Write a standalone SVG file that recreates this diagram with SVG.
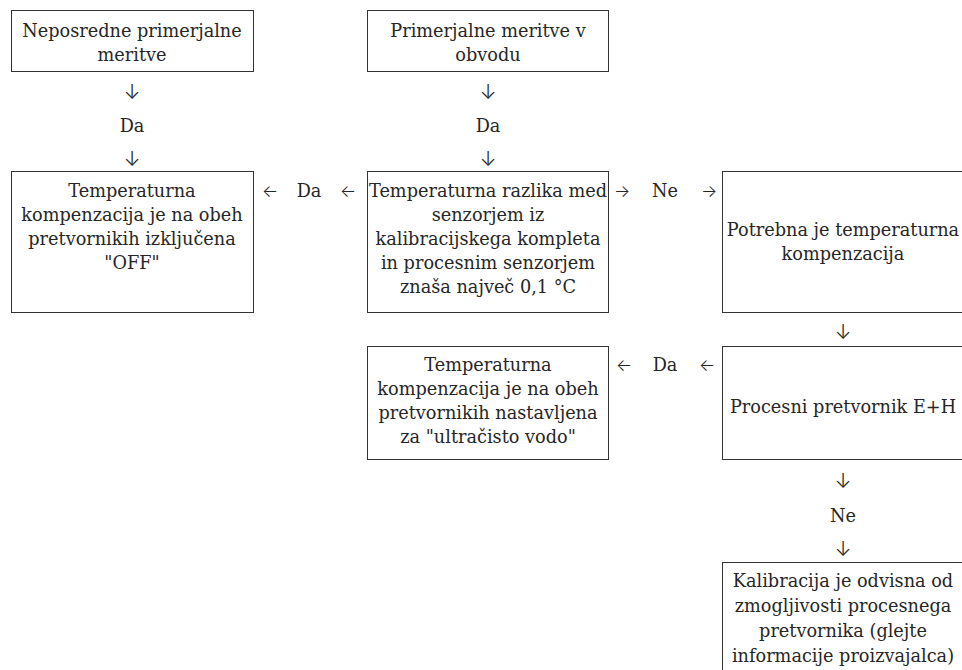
<svg xmlns="http://www.w3.org/2000/svg" width="962" height="670" viewBox="0 0 962 670">
<style>
.box{fill:#fff;stroke:#333;stroke-width:1}
text{font-family:"DejaVu Serif","Liberation Serif",serif;font-size:17.7px;fill:#262626;text-anchor:middle}
.v{font-family:Inter,"DejaVu Sans",sans-serif;font-size:20px;font-weight:300}
.h{font-family:Inter,"DejaVu Sans",sans-serif;font-size:17px;font-weight:300}
</style>
<rect width="962" height="670" fill="#fff"/>
<g id="n1">
<rect class="box" x="11.5" y="10.5" width="242" height="61"/>
<text x="132" y="37">Neposredne primerjalne</text>
<text x="132" y="61">meritve</text>
</g>
<g id="n2">
<rect class="box" x="367.5" y="10.5" width="241" height="61"/>
<text x="488" y="37">Primerjalne meritve v</text>
<text x="488" y="61">obvodu</text>
</g>
<g id="n3">
<rect class="box" x="11.5" y="171.5" width="242" height="141"/>
<text x="132" y="197">Temperaturna</text>
<text x="132" y="221">kompenzacija je na obeh</text>
<text x="132" y="245">pretvornikih izključena</text>
<text x="132" y="269">"OFF"</text>
</g>
<g id="n4">
<rect class="box" x="367.5" y="171.5" width="241" height="141"/>
<text x="488" y="197">Temperaturna razlika med</text>
<text x="488" y="221">senzorjem iz</text>
<text x="488" y="245">kalibracijskega kompleta</text>
<text x="488" y="269">in procesnim senzorjem</text>
<text x="488" y="293">znaša največ 0,1 °C</text>
</g>
<g id="n5">
<rect class="box" x="722.5" y="171.5" width="242" height="141"/>
<text x="843" y="236">Potrebna je temperaturna</text>
<text x="843" y="260">kompenzacija</text>
</g>
<g id="n6">
<rect class="box" x="367.5" y="346.5" width="241" height="113"/>
<text x="488" y="371">Temperaturna</text>
<text x="488" y="395">kompenzacija je na obeh</text>
<text x="488" y="419">pretvornikih nastavljena</text>
<text x="488" y="443">za "ultračisto vodo"</text>
</g>
<g id="n7">
<rect class="box" x="722.5" y="346.5" width="242" height="113"/>
<text x="843" y="413">Procesni pretvornik E+H</text>
</g>
<g id="n8">
<rect class="box" x="722.5" y="562.5" width="242" height="130"/>
<text x="843" y="587">Kalibracija je odvisna od</text>
<text x="843" y="612">zmogljivosti procesnega</text>
<text x="843" y="637">pretvornika (glejte</text>
<text x="843" y="662">informacije proizvajalca)</text>
</g>
<g id="connectors">
<text class="v" x="132" y="99">↓</text>
<text x="132" y="132">Da</text>
<text class="v" x="132" y="166">↓</text>
<text class="v" x="488" y="99">↓</text>
<text x="488" y="132">Da</text>
<text class="v" x="488" y="166">↓</text>
<text class="h" x="270" y="197">←</text>
<text x="309" y="197">Da</text>
<text class="h" x="348" y="197">←</text>
<text class="h" x="622" y="197">→</text>
<text x="665" y="197">Ne</text>
<text class="h" x="709" y="197">→</text>
<text class="v" x="843" y="339">↓</text>
<text class="h" x="624" y="371">←</text>
<text x="665" y="371">Da</text>
<text class="h" x="707" y="371">←</text>
<text class="v" x="843" y="488">↓</text>
<text x="843" y="522">Ne</text>
<text class="v" x="843" y="556">↓</text>
</g>
</svg>
